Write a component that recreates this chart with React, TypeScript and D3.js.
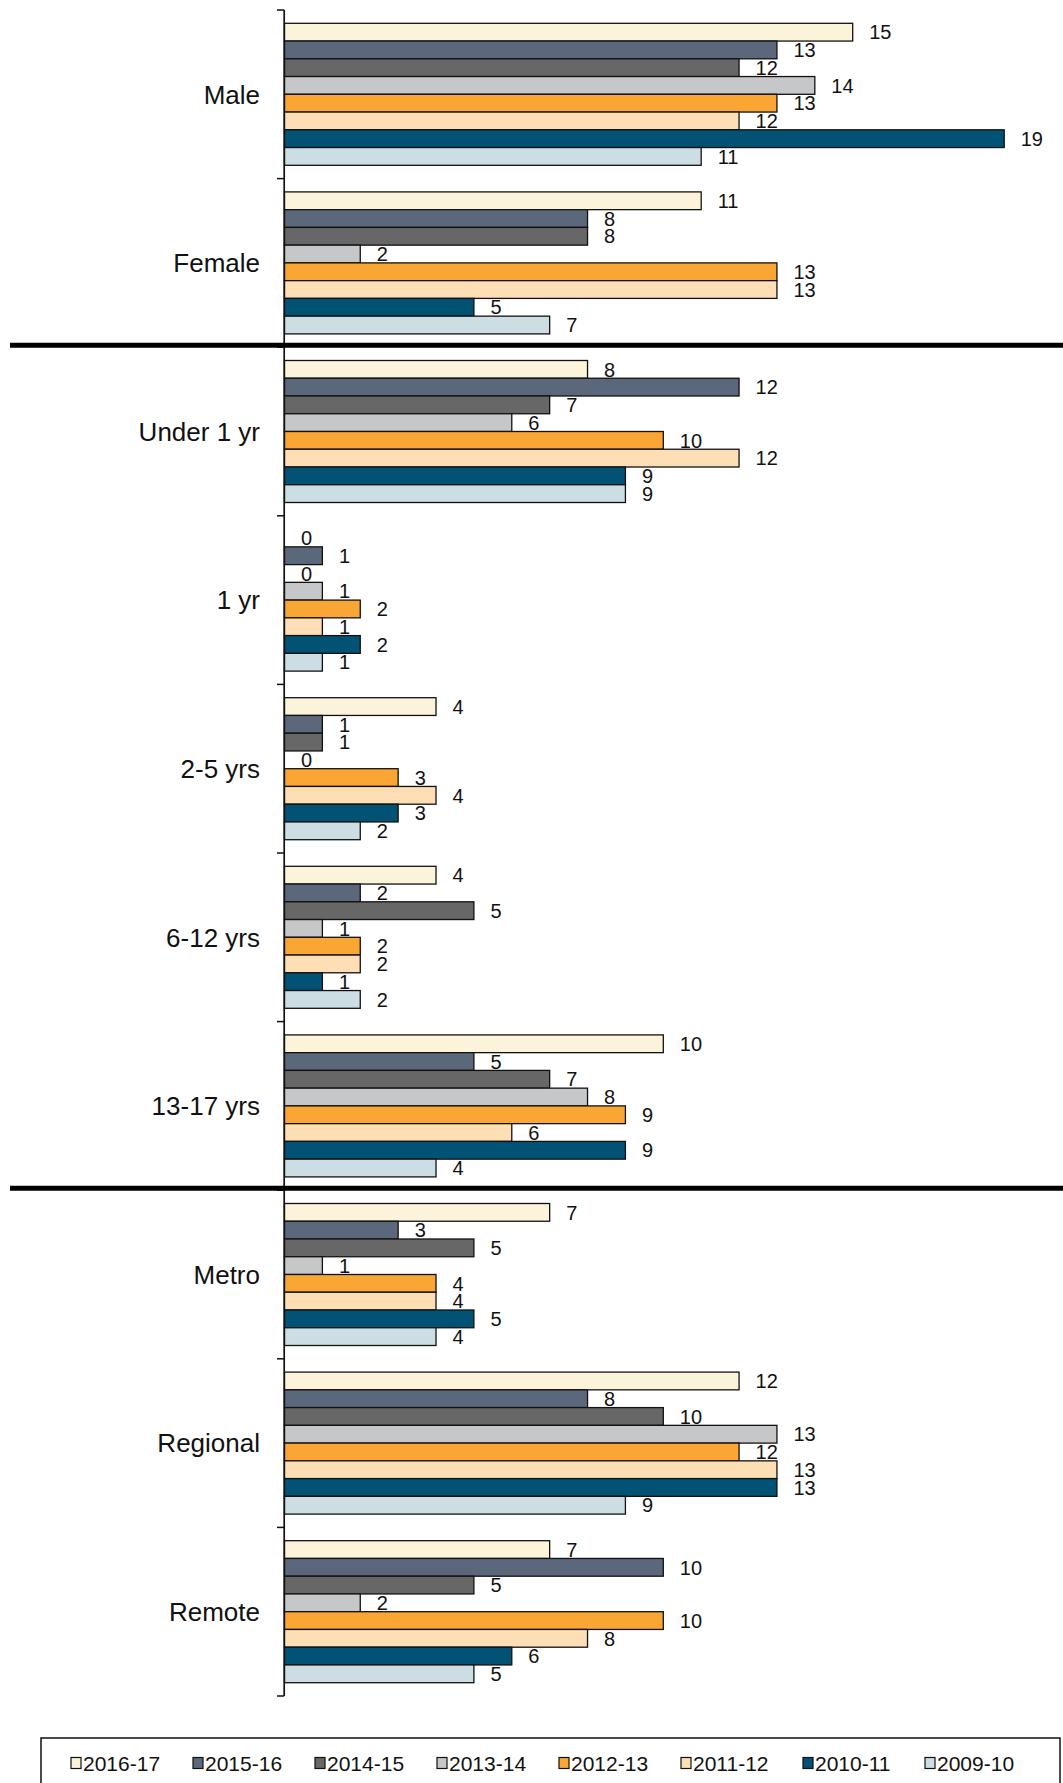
import React from "react";
import * as d3 from "d3";

const categories = ["Male", "Female", "Under 1 yr", "1 yr", "2-5 yrs", "6-12 yrs", "13-17 yrs", "Metro", "Regional", "Remote"];
const years = ["2016-17", "2015-16", "2014-15", "2013-14", "2012-13", "2011-12", "2010-11", "2009-10"];
const colors = ["#FCF4DA", "#5B687B", "#676767", "#C6C7C9", "#F9A634", "#FDDEB5", "#025276", "#CCDDE3"];

const v2016_17 = [15, 11, 8, 0, 4, 4, 10, 7, 12, 7];
const v2015_16 = [13, 8, 12, 1, 1, 2, 5, 3, 8, 10];
const v2014_15 = [12, 8, 7, 0, 1, 5, 7, 5, 10, 5];
const v2013_14 = [14, 2, 6, 1, 0, 1, 8, 1, 13, 2];
const v2012_13 = [13, 13, 10, 2, 3, 2, 9, 4, 12, 10];
const v2011_12 = [12, 13, 12, 1, 4, 2, 6, 4, 13, 8];
const v2010_11 = [19, 5, 9, 2, 3, 1, 9, 5, 13, 6];
const v2009_10 = [11, 7, 9, 1, 2, 2, 4, 4, 9, 5];
const seriesValues = [v2016_17, v2015_16, v2014_15, v2013_14, v2012_13, v2011_12, v2010_11, v2009_10];

// group boundaries (after these category indices) with a thick separator
const separatorsAfter = [1, 6];

const W = 1063;
const H = 1783;
const FONT = "'Liberation Sans', Arial, sans-serif";

export default function App() {
  const y0 = d3.scaleBand<string>().domain(categories).range([10, 1696]).padding(0);
  const bw = y0.bandwidth();
  const y1 = d3.scaleBand<string>().domain(years).range([13.3, bw - 13.3]).padding(0);
  const x = d3.scaleLinear().domain([0, 20]).range([284.5, 1042.1]);
  const axisX = 284.2;

  const boundaries = d3.range(categories.length + 1).map((i) => (i < categories.length ? (y0(categories[i]) as number) : 1696));

  const legendX0 = 71;
  const legendStep = 122;
  const legendY = 1763;

  return (
    <svg width={W} height={H} style={{ position: "absolute", left: 0, top: 0, background: "#fff" }} fontFamily={FONT}>
      <rect x={0} y={0} width={W} height={H} fill="#fff" />
      {/* bars */}
      {categories.map((c, ci) => (
        <g key={c}>
          {years.map((yr, si) => {
            const val = seriesValues[si][ci];
            const yy = (y0(c) as number) + (y1(yr) as number);
            const h = y1.bandwidth();
            return (
              <g key={yr}>
                {val > 0 && (
                  <rect x={x(0)} y={yy} width={x(val) - x(0)} height={h} fill={colors[si]} stroke="#111" strokeWidth={1.3} />
                )}
                <text x={x(val) + 16.5} y={yy + h / 2} dy="0.36em" fontSize={20} fill="#111">
                  {d3.format("d")(val)}
                </text>
              </g>
            );
          })}
        </g>
      ))}
      {/* category labels */}
      {categories.map((c) => (
        <text key={c} x={260} y={(y0(c) as number) + bw / 2} dy="0.36em" textAnchor="end" fontSize={26} fill="#111">
          {c}
        </text>
      ))}
      {/* axis line and ticks */}
      <line x1={axisX} x2={axisX} y1={10} y2={1696} stroke="#111" strokeWidth={1.7} />
      {boundaries.map((b, i) => (
        <line key={i} x1={277} x2={axisX} y1={b} y2={b} stroke="#111" strokeWidth={1.5} />
      ))}
      {/* thick separators */}
      {separatorsAfter.map((ci) => {
        const b = boundaries[ci + 1] - 2;
        return <line key={ci} x1={10} x2={W} y1={b} y2={b} stroke="#000" strokeWidth={5} />;
      })}
      {/* legend */}
      <rect x={41} y={1738} width={1019} height={60} fill="#fff" stroke="#111" strokeWidth={1.5} />
      {years.map((yr, i) => {
        const lx = legendX0 + i * legendStep;
        return (
          <g key={yr}>
            <rect x={lx} y={legendY - 5.5} width={10} height={11} fill={colors[i]} stroke="#111" strokeWidth={1.2} />
            <text x={lx + 12} y={legendY} dy="0.36em" fontSize={21} fill="#111">
              {yr}
            </text>
          </g>
        );
      })}
    </svg>
  );
}
